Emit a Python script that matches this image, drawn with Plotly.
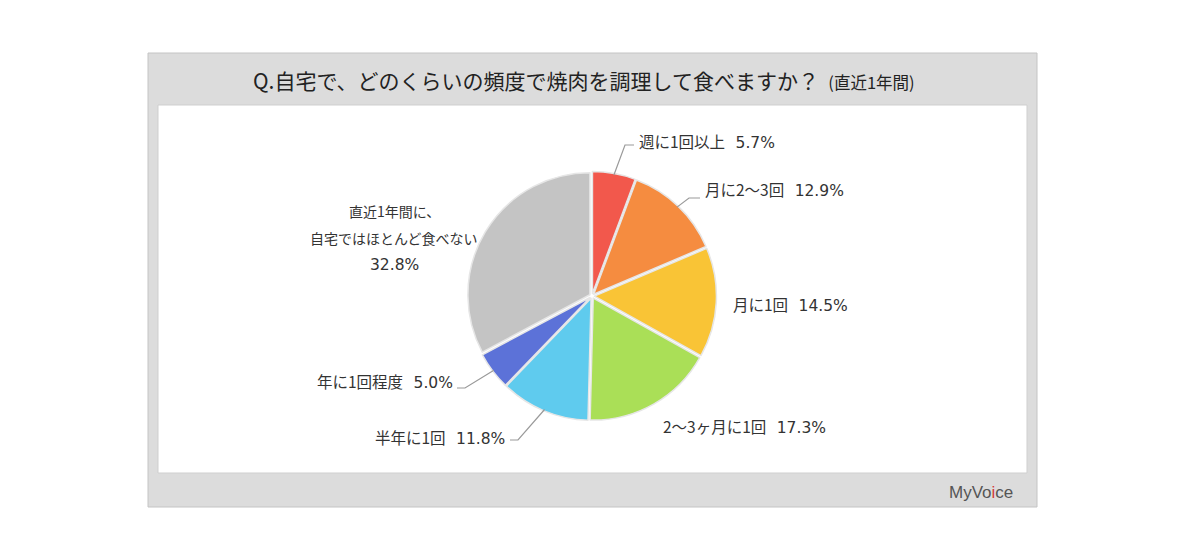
import math
import plotly.graph_objects as go

# ---- data ----
categories = ["週に1回以上", "月に2〜3回", "月に1回", "2〜3ヶ月に1回", "半年に1回", "年に1回程度",
              "直近1年間に、自宅ではほとんど食べない"]
values = [5.7, 12.9, 14.5, 17.3, 11.8, 5.0, 32.8]
colors = ["#F2584C", "#F58C40", "#F9C436", "#AADF57", "#5FCBEE", "#5C72D8", "#C4C4C4"]
title_main = "Q.自宅で、どのくらいの頻度で焼肉を調理して食べますか？"
title_sub = "(直近1年間)"

W, H = 1200, 553
OFF = 8  # page body margin
CX, CY, R = 592, 296, 122
PULL = 0.02


def px(x):
    return (x - OFF) / W


def py(y):
    return 1 - (y - OFF) / H


dr = R * (1 + PULL)
fig = go.Figure(go.Pie(
    labels=categories, values=values, sort=False, direction="clockwise", rotation=0,
    marker=dict(colors=colors, line=dict(color="#E6E6E6", width=1.5)),
    pull=[PULL] * len(values), textinfo="none", hoverinfo="label+percent",
    domain=dict(x=[px(CX - dr), px(CX + dr)], y=[py(CY + dr), py(CY - dr)]),
    showlegend=False,
))

shapes = [
    dict(type="rect", xref="paper", yref="paper", x0=px(148), x1=px(1037), y0=py(507), y1=py(53),
         fillcolor="#DCDCDC", line=dict(color="#C4C4C4", width=1), layer="below"),
    dict(type="rect", xref="paper", yref="paper", x0=px(158), x1=px(1027), y0=py(473), y1=py(105),
         fillcolor="#FFFFFF", line=dict(color="#CFCFCF", width=1), layer="below"),
]

# label layout: (x, y, anchor, elbow, end) in pixels
label_layout = [
    (637, 141, "left", (625, 145), (634, 145)),
    (703, 189, "left", (689, 198), (700, 198)),
    (731, 304, "left", None, None),
    (661, 426, "left", None, None),
    (507, 437, "right", (518, 440), (510, 440)),
    (455, 381, "right", (465, 388), (457, 388)),
    (394, 238, "center", None, None),
]

font = "Noto Sans CJK JP, Meiryo, sans-serif"
numfont = "DejaVu Sans, Verdana, sans-serif"
annotations = []
total = sum(values)
cum = 0.0
for cat, v, (lx, ly, anc, elbow, end) in zip(categories, values, label_layout):
    mid = (cum + v / 2) / total * 2 * math.pi
    cum += v
    pct = f"<span style='font-family:{numfont};font-size:15.5px'>{v:.1f}%</span>"
    if "、" in cat:
        head, tail = cat.split("、", 1)
        lines = [head + "、", tail, pct]
        for i, t in enumerate(lines):
            annotations.append(dict(x=px(lx), y=py(ly - 27 + 27 * i), xref="paper", yref="paper",
                                    text=t, showarrow=False, xanchor="center", yanchor="middle",
                                    font=dict(family=font, size=14, color="#333333")))
    else:
        annotations.append(dict(x=px(lx), y=py(ly), xref="paper", yref="paper",
                                text=f"{cat}&nbsp;&nbsp;&nbsp;{pct}", showarrow=False, xanchor=anc,
                                yanchor="middle",
                                font=dict(family=font, size=15.5, color="#333333")))
    if elbow is not None:
        sx = CX + (R + 1) * math.sin(mid)
        sy = CY - (R + 1) * math.cos(mid)
        path = f"M {px(sx)},{py(sy)} L {px(elbow[0])},{py(elbow[1])} L {px(end[0])},{py(end[1])}"
        shapes.append(dict(type="path", xref="paper", yref="paper", path=path,
                           line=dict(color="#9A9A9A", width=1.2)))

annotations.append(dict(x=px(584), y=py(80), xref="paper", yref="paper", showarrow=False,
                        text=f"{title_main}  <span style='font-size:16.5px'>{title_sub}</span>",
                        xanchor="center", yanchor="middle",
                        font=dict(family=font, size=21, color="#222222")))
annotations.append(dict(x=px(1015), y=py(492), xref="paper", yref="paper", showarrow=False,
                        text="MyVo<span style='color:#D23A3A'>i</span>ce", xanchor="right", yanchor="middle",
                        font=dict(family="Liberation Sans, Arial, sans-serif", size=17, color="#555555")))

fig.update_layout(width=W, height=H, margin=dict(l=0, r=0, t=0, b=0),
                  paper_bgcolor="#FFFFFF", plot_bgcolor="#FFFFFF",
                  shapes=shapes, annotations=annotations)
fig.write_html("out.html")
